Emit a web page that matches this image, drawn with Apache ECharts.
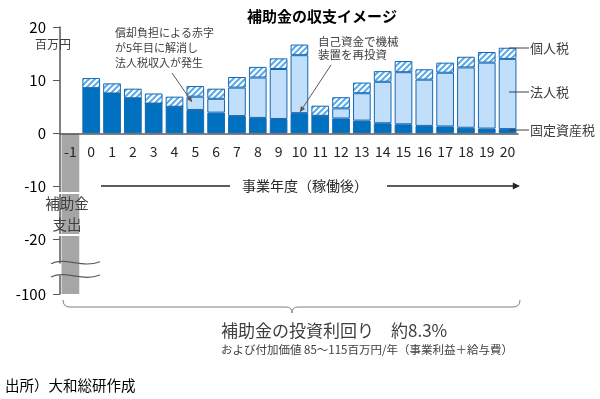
<!DOCTYPE html>
<html>
<head>
<meta charset="utf-8">
<script src="https://cdn.jsdelivr.net/npm/echarts@6/dist/echarts.min.js"></script>
<style>
  html, body { margin: 0; padding: 0; background: #fff; }
  #main { width: 600px; height: 399px; }
</style>
</head>
<body>
<div id="main"></div>
<script>
  // 事業年度（-1 は補助金支出の年）
  const years = ['-1', '0', '1', '2', '3', '4', '5', '6', '7', '8', '9', '10',
                 '11', '12', '13', '14', '15', '16', '17', '18', '19', '20']

  // 税収（百万円）
  const fixedAssetTax = ['-', 8.5, 7.5, 6.6, 5.6, 5.0, 4.4, 3.9, 3.25, 2.9, 2.7, 3.8,
                         3.3, 2.8, 2.4, 1.9, 1.7, 1.4, 1.3, 1.05, 0.9, 0.8]
  const corporateTax = ['-', 0, 0, 0, 0, 0, 2.5, 2.6, 5.35, 7.6, 9.4, 10.9,
                        0, 1.9, 5.15, 7.8, 9.8, 8.7, 10.1, 11.35, 12.4, 13.2]
  const personalTax = ['-', 1.9, 1.9, 1.8, 1.9, 1.9, 2.0, 1.9, 2.0, 2.0, 2.0, 2.0,
                       1.9, 2.1, 2.0, 2.0, 2.1, 1.95, 1.9, 2.0, 2.0, 2.1]
  // 補助金支出
  const subsidy = [-100, '-', '-', '-', '-', '-', '-', '-', '-', '-', '-', '-',
                   '-', '-', '-', '-', '-', '-', '-', '-', '-', '-']

  const yTicks = [20, 10, 0, -10, -20, -100]

  const FONT = '"Noto Sans CJK JP", sans-serif'

  // 個人税の斜線パターン
  function hatch () {
    const c = document.createElement('canvas')
    c.width = 6
    c.height = 6
    const g = c.getContext('2d')
    g.fillStyle = '#fff'
    g.fillRect(0, 0, 6, 6)
    g.strokeStyle = '#5aaaee'
    g.lineWidth = 2
    g.beginPath()
    g.moveTo(-1, 7); g.lineTo(7, -1)
    g.moveTo(-4, 4); g.lineTo(4, -4)
    g.moveTo(2, 10); g.lineTo(10, 2)
    g.stroke()
    return c
  }

  const myChart = echarts.init(document.getElementById('main'))

  const barBorder = { borderColor: '#1569b3', borderWidth: 1 }

  const option = {
    animation: false,
    textStyle: { fontFamily: FONT },
    title: {
      text: '補助金の収支イメージ',
      left: 242,
      top: 4,
      textStyle: { fontSize: 15, fontWeight: 'bold', color: '#000', fontFamily: FONT }
    },
    grid: { left: 60, right: 82, top: 27, bottom: 105 },
    xAxis: {
      type: 'category',
      data: years,
      z: 5,
      axisLine: { onZero: true, lineStyle: { color: '#595959', width: 1.5 } },
      axisTick: { show: false },
      // ラベルは0の線のすぐ下に置く
      axisLabel: { fontSize: 14, color: '#262626', margin: -149 }
    },
    yAxis: {
      type: 'value',
      min: -100,
      max: 20,
      interval: 10,
      breaks: [{ start: -96.6, end: -24.3, gap: '5%' }],
      breakArea: { show: false },
      splitLine: { show: false },
      axisLine: { show: true, lineStyle: { color: '#595959', width: 1.5 } },
      axisTick: { show: true, length: 7, customValues: yTicks, lineStyle: { color: '#595959' } },
      axisLabel: { fontSize: 15, color: '#000', margin: 14, customValues: yTicks }
    },
    series: [
      {
        name: '固定資産税',
        type: 'bar',
        stack: 'tax',
        barCategoryGap: '15%',
        itemStyle: Object.assign({ color: '#0070c0' }, barBorder),
        data: fixedAssetTax
      },
      {
        name: '法人税',
        type: 'bar',
        stack: 'tax',
        itemStyle: Object.assign({ color: '#c1defa' }, barBorder),
        data: corporateTax
      },
      {
        name: '個人税',
        type: 'bar',
        stack: 'tax',
        itemStyle: Object.assign({ color: { image: hatch(), repeat: 'repeat' } }, barBorder),
        data: personalTax
      },
      {
        name: '補助金支出',
        type: 'bar',
        stack: 'tax',
        itemStyle: { color: '#a6a6a6' },
        data: subsidy
      }
    ]
  }

  myChart.setOption(option)

  // 注記・矢印など
  function arrowHead (x1, y1, x2, y2, size, color) {
    const a = Math.atan2(y2 - y1, x2 - x1)
    const p1 = [x2 - size * Math.cos(a - 0.45), y2 - size * Math.sin(a - 0.45)]
    const p2 = [x2 - size * Math.cos(a + 0.45), y2 - size * Math.sin(a + 0.45)]
    return { type: 'polygon', z: 100, shape: { points: [p1, [x2, y2], p2] }, style: { fill: color } }
  }
  function text (str, x, y, size, opts) {
    return {
      type: 'text',
      z: 100,
      x: x, y: y,
      style: Object.assign({
        text: str, font: size + 'px ' + FONT, fill: '#404040',
        textAlign: 'left', textVerticalAlign: 'middle'
      }, opts || {})
    }
  }
  function line (x1, y1, x2, y2, color, w) {
    return { type: 'line', z: 100, shape: { x1: x1, y1: y1, x2: x2, y2: y2 }, style: { stroke: color, lineWidth: w } }
  }
  function curve (x1, y1, cx, cy, x2, y2, color) {
    return {
      type: 'bezierCurve',
      z: 100,
      shape: { x1: x1, y1: y1, cpx1: cx, cpy1: cy, x2: x2, y2: y2 },
      style: { stroke: color, lineWidth: 1, fill: null }
    }
  }
  function wave (y) {
    return {
      type: 'bezierCurve',
      z: 100,
      shape: { x1: 51, y1: y + 1, cpx1: 66, cpy1: y - 6, cpx2: 82, cpy2: y + 6, x2: 100, y2: y - 1 },
      style: { stroke: '#595959', lineWidth: 1.2, fill: null }
    }
  }

  // 省略記号の位置（-20 と -100 の目盛りから）
  const yMinus20 = myChart.convertToPixel({ yAxisIndex: 0 }, -20)
  const yMinus100 = myChart.convertToPixel({ yAxisIndex: 0 }, -100)

  const braceColor = '#7f7f7f'
  const graphics = [
    text('百万円', 35, 44, 12),
    text('償却負担による赤字\nが5年目に解消し\n法人税収入が発生', 115, 48, 11, { lineHeight: 15 }),
    line(172, 73, 192, 102, '#595959', 1),
    arrowHead(172, 73, 192, 102, 6, '#595959'),
    text('自己資金で機械\n装置を再投資', 318, 48, 11.5, { lineHeight: 13 }),
    line(331, 65, 300, 112, '#595959', 1),
    arrowHead(331, 65, 300, 112, 6, '#595959'),
    line(509, 48, 529, 48, '#404040', 1),
    line(509, 92, 529, 92, '#404040', 1),
    line(509, 130, 529, 130, '#404040', 1),
    text('個人税', 530, 48, 13),
    text('法人税', 530, 92, 13),
    text('固定資産税', 530, 130, 13),
    line(101, 186, 230, 186, '#262626', 1.5),
    text('事業年度（稼働後）', 242, 186, 14, { fill: '#262626' }),
    line(387, 186, 514, 186, '#262626', 1.5),
    arrowHead(387, 186, 520, 186, 8, '#262626'),
    text('補助金\n支出', 67, 214, 14.5, {
      textAlign: 'center', lineHeight: 21, textBorderColor: '#fff', textBorderWidth: 2
    }),
    wave(yMinus20 + 23),
    wave(yMinus100 - 18),
    curve(63, 300, 63, 307, 70, 307, braceColor),
    line(70, 307, 286, 307, braceColor, 1),
    curve(286, 307, 292, 307, 292, 313, braceColor),
    curve(292, 313, 292, 307, 298, 307, braceColor),
    line(298, 307, 513, 307, braceColor, 1),
    curve(513, 307, 520, 307, 520, 300, braceColor),
    text('補助金の投資利回り　約8.3%', 221, 331, 17),
    text('および付加価値 85～115百万円/年（事業利益＋給与費）', 221, 350, 11.5),
    text('出所）大和総研作成', 5, 385, 14.5, { fill: '#000' })
  ]

  myChart.setOption({ graphic: graphics })
</script>
</body>
</html>
